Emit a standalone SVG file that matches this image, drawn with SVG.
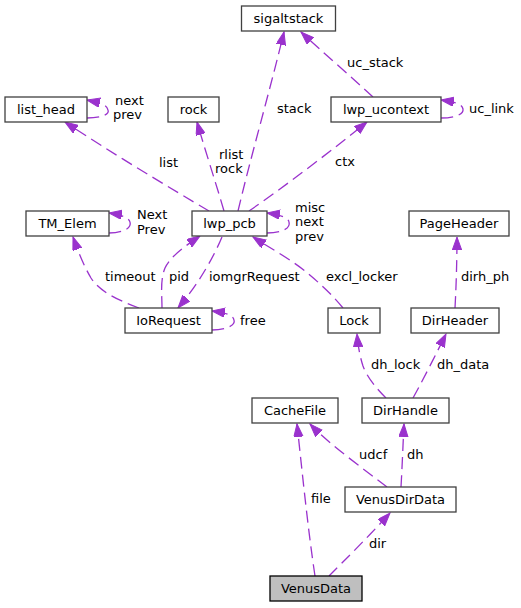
<svg xmlns="http://www.w3.org/2000/svg" width="521" height="608" viewBox="0 0 521 608">
<style>
.node rect{fill:#ffffff;stroke:#404040;stroke-width:1.3}
.node.root rect{fill:#bfbfbf;stroke:#000000}
.node text{font-family:"DejaVu Sans",sans-serif;font-size:13px;fill:#000;text-anchor:middle}
.edges path{fill:none;stroke:#9a32cd;stroke-width:1.3;stroke-dasharray:12,6;marker-end:url(#arr)}
.edges text{font-family:"DejaVu Sans",sans-serif;font-size:13px;fill:#000}
</style>
<defs>
<marker id="arr" markerUnits="userSpaceOnUse" markerWidth="14" markerHeight="10" refX="13" refY="4.7" orient="auto">
<path d="M0,0 L13,4.7 L0,9.4 Z" fill="#9a32cd" stroke="#9a32cd" stroke-width="1"/>
</marker>
</defs>
<rect width="521" height="608" fill="#ffffff"/>
<g class="edges">
<path d="M238,211 C250,160 270,90 284,32"/>
<text x="277" y="113">stack</text>
<path d="M373,97 C355,80 320,50 301,32"/>
<text x="347" y="67">uc_stack</text>
<path d="M441,118 C453,118 464,115 463,109 C462,104 455,102 441,100"/>
<text x="469" y="113">uc_link</text>
<path d="M87,118 C99,118 110,115 108,110 C107,105 101,103 87,100"/>
<text x="115" y="104.5">next</text>
<text x="113" y="119">prev</text>
<path d="M209,211 C170,188 110,152 65,122"/>
<text x="159" y="166.5">list</text>
<path d="M224,211 C215,180 205,150 197,122"/>
<text x="219" y="158.5">rlist</text>
<text x="215" y="172.5">rock</text>
<path d="M249,211 C280,190 335,148 367,122"/>
<text x="335" y="166">ctx</text>
<path d="M267,233 C280,233 291,229 289,222 C288,218 282,215 267,213"/>
<text x="295" y="211.5">misc</text>
<text x="295" y="226">next</text>
<text x="295" y="240.5">prev</text>
<path d="M109,233 C121,233 132,229 130,222 C129,218 123,215 109,213"/>
<text x="137" y="219">Next</text>
<text x="137" y="233.5">Prev</text>
<path d="M139,308 C118,300 100,292 91,278 C84,266 79,254 73,237"/>
<text x="105" y="280.5">timeout</text>
<path d="M162,308 C162,295 160,280 165,268 C170,257 185,246 200,236"/>
<text x="169" y="280.5">pid</text>
<path d="M222,237 C214,256 200,282 178,308"/>
<text x="209" y="280.5">iomgrRequest</text>
<path d="M212,330 C224,330 236,326 234,320 C233,315 227,313 212,311"/>
<text x="240" y="325">free</text>
<path d="M343,308 C330,292 318,282 305,271 C290,259 270,248 253,237"/>
<text x="326" y="280.5">excl_locker</text>
<path d="M455,308 C456,290 457,262 457,237"/>
<text x="461" y="280.5">dirh_ph</text>
<path d="M386,398 C376,388 367,377 363,366 C360,357 358,346 357,334"/>
<text x="371" y="368.5">dh_lock</text>
<path d="M413,398 C422,382 436,354 446,334"/>
<text x="437" y="368.5">dh_data</text>
<path d="M387,487 C365,470 330,445 310,424"/>
<text x="359" y="458.5">udcf</text>
<path d="M401,487 C402,470 403,445 404,424"/>
<text x="407" y="458.5">dh</text>
<path d="M315,576 C308,530 302,470 297,424"/>
<text x="311" y="502.5">file</text>
<path d="M329,576 C345,560 370,535 390,513"/>
<text x="369" y="547.5">dir</text>
</g>
<g id="node-sigaltstack" class="node"><rect x="241.5" y="6" width="94" height="25"/><text x="288.5" y="22.5">sigaltstack</text></g>
<g id="node-list_head" class="node"><rect x="5" y="97" width="82" height="25"/><text x="46" y="113.5">list_head</text></g>
<g id="node-rock" class="node"><rect x="168" y="97" width="51" height="25"/><text x="193.5" y="113.5">rock</text></g>
<g id="node-lwp_ucontext" class="node"><rect x="331" y="97" width="110" height="25"/><text x="386" y="113.5">lwp_ucontext</text></g>
<g id="node-TM_Elem" class="node"><rect x="26" y="211" width="83" height="25"/><text x="67.5" y="227.5">TM_Elem</text></g>
<g id="node-lwp_pcb" class="node"><rect x="192" y="211" width="75" height="25"/><text x="229.5" y="227.5">lwp_pcb</text></g>
<g id="node-PageHeader" class="node"><rect x="409" y="211" width="100" height="25"/><text x="459" y="227.5">PageHeader</text></g>
<g id="node-IoRequest" class="node"><rect x="125" y="308" width="87" height="25"/><text x="168.5" y="324.5">IoRequest</text></g>
<g id="node-Lock" class="node"><rect x="328" y="308" width="52" height="25"/><text x="354" y="324.5">Lock</text></g>
<g id="node-DirHeader" class="node"><rect x="411" y="308" width="88" height="25"/><text x="455" y="324.5">DirHeader</text></g>
<g id="node-CacheFile" class="node"><rect x="252" y="398" width="86" height="25"/><text x="295" y="414.5">CacheFile</text></g>
<g id="node-DirHandle" class="node"><rect x="362" y="398" width="87" height="25"/><text x="405.5" y="414.5">DirHandle</text></g>
<g id="node-VenusDirData" class="node"><rect x="345" y="487" width="111" height="25"/><text x="400.5" y="503.5">VenusDirData</text></g>
<g id="node-VenusData" class="node root"><rect x="270" y="576" width="92" height="25"/><text x="316" y="592.5">VenusData</text></g>
</svg>
